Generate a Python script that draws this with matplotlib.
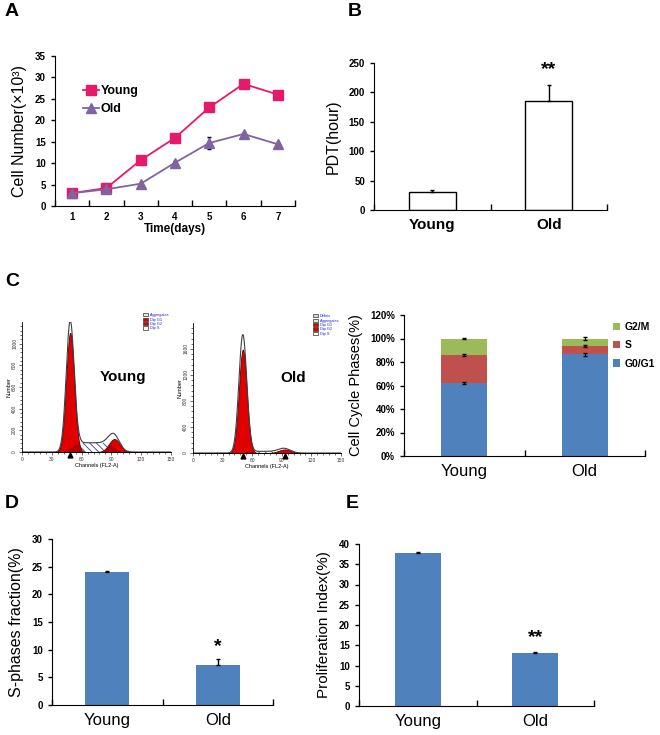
import math
import numpy as np
import matplotlib
matplotlib.use('Agg')
import matplotlib.pyplot as plt
from matplotlib.patches import Patch
from matplotlib.lines import Line2D

plt.rcParams['font.family'] = ['Liberation Sans', 'DejaVu Sans']
plt.rcParams['hatch.linewidth'] = 0.6

# ---- data ----
days = [1, 2, 3, 4, 5, 6, 7]
young_cells = [3.0, 4.2, 10.7, 15.9, 23.0, 28.5, 26.0]
old_cells = [3.0, 3.9, 5.2, 10.1, 14.7, 16.8, 14.4]
old_cells_err = [0.2, 0.2, 0.2, 0.3, 1.3, 0.3, 0.3]

groups = ['Young', 'Old']
pdt = [31, 186]
pdt_err = [3, 26]

g0g1 = [62.0, 86.5]
s_phase = [24.0, 7.0]
g2m = [14.0, 6.5]
g0g1_err = [1.0, 1.0]
s_err = [0.5, 1.0]
g2m_err = [0.3, 1.0]

s_fraction = [24.0, 7.2]
s_fraction_err = [0.3, 1.2]
prolif = [37.8, 13.2]
prolif_err = [0.3, 0.2]

# flow histogram fit components: (channel, height, sigma)
young_g1 = (48.5, 1100, 4.0)
young_g1_env = 1170
young_g2 = (93.0, 120, 5.5)
young_g2_env = 125
young_s_level = 85
old_g1 = (50.5, 1590, 4.0)
old_g1_env = 1810
old_g2 = (93.0, 55, 6.0)
old_g2_env = 60
old_s_level = 25

pink = '#E6196B'
purple = '#8064A2'
blue = '#4F81BD'
red = '#C0504D'
green = '#9BBB59'

fig = plt.figure(figsize=(6.6, 7.35), dpi=100)
W, H = 660.0, 735.0


def axes_px(x0, y0, x1, y1):
    return fig.add_axes([x0 / W, 1 - y1 / H, (x1 - x0) / W, (y1 - y0) / H])


def excel_style(ax):
    for s in ['top', 'right']:
        ax.spines[s].set_visible(False)
    ax.tick_params(axis='y', direction='out', length=3, width=1, labelsize=7)
    for t in ax.get_yticklabels():
        t.set_fontweight('bold')


def cat_axis(ax, n, labelsize=12, weight='normal'):
    ax.set_xlim(0.5, n + 0.5)
    ax.set_xticks(range(1, n + 1))
    ax.set_xticklabels(groups if n == 2 else [str(d) for d in days],
                       fontsize=labelsize, fontweight=weight)
    ax.set_xticks(np.arange(0.5, n + 1, 1.0), minor=True)
    ax.tick_params(axis='x', which='major', length=0, pad=6)
    ax.tick_params(axis='x', which='minor', direction='in', length=4, width=1)


# ---- A ----
ax = axes_px(55, 56, 295, 206)
ax.plot(days, young_cells, color=pink, marker='s', ms=7, lw=1.3)
ax.errorbar(days, old_cells, yerr=old_cells_err, color=purple, marker='^', ms=7,
            lw=1.3, ecolor='black', elinewidth=1, capsize=1.5)
ax.set_ylim(0, 35)
ax.set_yticks(range(0, 36, 5))
excel_style(ax)
cat_axis(ax, 7, labelsize=7, weight='bold')
ax.tick_params(axis='x', which='major', pad=4)
ax.set_xlabel('Time(days)', fontsize=8.5, fontweight='bold', labelpad=1)
ax.set_ylabel('Cell Number(\u00d710\u00b3)', fontsize=11.5, labelpad=6)
leg_handles = [Line2D([], [], color=pink, marker='s', ms=7, lw=1.3),
               Line2D([], [], color=purple, marker='^', ms=7, lw=1.3)]
ax.legend(leg_handles, groups, loc='upper left', bbox_to_anchor=(0.07, 0.88), frameon=False,
          handlelength=1.3, handletextpad=0.1, labelspacing=0.45,
          prop={'size': 9, 'weight': 'bold'})
fig.text(12 / W, 1 - 12 / H, 'A', fontsize=14, fontweight='bold', va='center', ha='center')

# ---- B ----
ax = axes_px(374, 63, 607, 210)
x = np.arange(1, 3)
ax.bar(x, pdt, width=0.4, color='white', edgecolor='black', lw=1)
ax.errorbar(x, pdt, yerr=[[0, 0], pdt_err], fmt='none', ecolor='black',
            elinewidth=1, capsize=1.5)
ax.set_ylim(0, 250)
ax.set_yticks(range(0, 251, 50))
excel_style(ax)
cat_axis(ax, 2, labelsize=11, weight='bold')
ax.set_ylabel('PDT(hour)', fontsize=11.5, labelpad=6)
ax.text(2, 238, '**', ha='center', va='center', fontsize=14, fontweight='bold')
fig.text(355 / W, 1 - 12 / H, 'B', fontsize=14, fontweight='bold', va='center', ha='center')

# ---- C: flow histograms ----
fig.text(12 / W, 1 - 282 / H, 'C', fontsize=14, fontweight='bold', va='center', ha='center')


def gauss(ch, p, h=None):
    c, hh, s = p
    if h is None:
        h = hh
    return h * np.exp(-0.5 * ((ch - c) / s) ** 2)


def s_plateau(ch, c1, c2, level, s):
    erf = np.vectorize(math.erf)
    return level * 0.5 * (erf((ch - c1) / (math.sqrt(2) * s)) - erf((ch - c2) / (math.sqrt(2) * s)))


def histogram(ax, g1, g1_env, g2, g2_env, s_level, ymax, yticks, leg_items, name, marks, fs):
    ch = np.linspace(0, 150, 1200)
    s = s_plateau(ch, g1[0], g2[0], s_level, 5.0)
    r1 = gauss(ch, g1)
    r2 = gauss(ch, g2)
    env = gauss(ch, g1, g1_env) + s + gauss(ch, g2, g2_env)
    ax.fill_between(ch, 0, s, facecolor='white', edgecolor='#3040A0', hatch='\\\\\\\\\\', lw=0)
    ax.fill_between(ch, 0, r1, color='#E00000', lw=0.6, edgecolor='#600000')
    ax.fill_between(ch, 0, r2, color='#E00000', lw=0.6, edgecolor='#600000')
    ax.fill_between(ch, 0, np.minimum(s, np.maximum(r1, r2)), color='#B00000', lw=0)
    ax.plot(ch, env, color='#404040', lw=0.8)
    ax.set_xlim(0, 150)
    ax.set_ylim(0, ymax)
    for sp in ['top', 'right']:
        ax.spines[sp].set_visible(False)
    for sp in ['left', 'bottom']:
        ax.spines[sp].set_linewidth(0.6)
    ax.set_xticks(range(0, 151, 30))
    ax.set_xticks(range(0, 151, 6), minor=True)
    ax.set_yticks(yticks)
    ax.set_yticks(np.arange(0, ymax, yticks[1] / 5), minor=True)
    ax.tick_params(which='both', labelsize=3.5, length=2, width=0.5, pad=1.5, colors='#333333')
    ax.tick_params(which='minor', length=1.2)
    for t in ax.get_yticklabels():
        t.set_rotation(90)
        t.set_va('center')
    ax.set_xlabel('Channels (FL2-A)', fontsize=4, labelpad=0.5)
    ax.set_ylabel('Number', fontsize=4, labelpad=0.5)
    for m in marks:
        ax.plot(m, -ymax * 0.025, marker='^', color='black', ms=3.5, clip_on=False)
    handles = [Patch(facecolor=fc, edgecolor='#333333', hatch=h, lw=0.5) for fc, h in leg_items[1]]
    lg = ax.legend(handles, leg_items[0], loc='upper left', bbox_to_anchor=(0.8, 1.08),
                   frameon=False, fontsize=2.8, handlelength=1.4, handleheight=0.9,
                   labelspacing=0.1, handletextpad=0.4, borderaxespad=0)
    for t in lg.get_texts():
        t.set_color('#2020E0')
    ax.text(0.68, 0.58, name, transform=ax.transAxes, ha='center', va='center',
            fontsize=fs, fontweight='bold')


ax = axes_px(22, 322, 171, 452)
histogram(ax, young_g1, young_g1_env, young_g2, young_g2_env, young_s_level, 1200,
          [0, 200, 400, 600, 800, 1000],
          (['Aggregates', 'Dip G1', 'Dip G2', 'Dip S'],
           [('#D8F0D0', None), ('#E00000', None), ('#E00000', None), ('white', '\\\\\\')]),
          'Young', [young_g1[0]], 11)

ax = axes_px(193, 323, 341, 453)
histogram(ax, old_g1, old_g1_env, old_g2, old_g2_env, old_s_level, 2000,
          [0, 400, 800, 1200, 1600],
          (['Debris', 'Aggregates', 'Dip G1', 'Dip G2', 'Dip S'],
           [('#D0D8F0', None), ('#D8F0D0', None), ('#E00000', None), ('#E00000', None),
            ('white', '\\\\\\')]),
          'Old', [old_g1[0], old_g2[0]], 11)

# ---- C: stacked bars ----
ax = axes_px(404, 315, 645, 456)
g0 = np.array(g0g1) / 100
sp = np.array(s_phase) / 100
gm = np.array(g2m) / 100
ax.bar(x, g0, width=0.38, color=blue, label='G0/G1')
ax.bar(x, sp, width=0.38, bottom=g0, color=red, label='S')
ax.bar(x, gm, width=0.38, bottom=g0 + sp, color=green, label='G2/M')
ax.errorbar(x, g0, yerr=np.array(g0g1_err) / 100, fmt='none', ecolor='black', elinewidth=0.8, capsize=1.2)
ax.errorbar(x, g0 + sp, yerr=np.array(s_err) / 100, fmt='none', ecolor='black', elinewidth=0.8, capsize=1.2)
ax.errorbar(x, g0 + sp + gm, yerr=np.array(g2m_err) / 100, fmt='none', ecolor='black', elinewidth=0.8, capsize=1.2)
ax.set_ylim(0, 1.2)
ax.set_yticks(np.arange(0, 1.21, 0.2))
ax.set_yticklabels(['%d%%' % v for v in range(0, 121, 20)])
excel_style(ax)
cat_axis(ax, 2, labelsize=12)
ax.set_ylabel('Cell Cycle Phases(%)', fontsize=10.5, labelpad=5)
h, l = ax.get_legend_handles_labels()
ax.legend(h[::-1], l[::-1], loc='upper left', bbox_to_anchor=(0.85, 0.98), frameon=False,
          handlelength=0.7, handleheight=0.7, handletextpad=0.4, labelspacing=0.8,
          borderaxespad=0, prop={'size': 7.5, 'weight': 'bold'})

# ---- D ----
ax = axes_px(52, 539, 273, 705)
ax.bar(x, s_fraction, width=0.4, color=blue)
ax.errorbar(x, s_fraction, yerr=[[0, 0], s_fraction_err], fmt='none', ecolor='black',
            elinewidth=1, capsize=1.5)
ax.set_ylim(0, 30)
ax.set_yticks(range(0, 31, 5))
excel_style(ax)
cat_axis(ax, 2, labelsize=12)
ax.set_ylabel('S-phases fraction(%)', fontsize=11.5, labelpad=6)
ax.text(2, 10.6, '*', ha='center', va='center', fontsize=14, fontweight='bold')
fig.text(12 / W, 1 - 503 / H, 'D', fontsize=14, fontweight='bold', va='center', ha='center')

# ---- E ----
ax = axes_px(359, 544, 594, 706)
ax.bar(x, prolif, width=0.39, color=blue)
ax.errorbar(x, prolif, yerr=[[0, 0], prolif_err], fmt='none', ecolor='black',
            elinewidth=1, capsize=1.5)
ax.set_ylim(0, 40)
ax.set_yticks(range(0, 41, 5))
excel_style(ax)
cat_axis(ax, 2, labelsize=12)
ax.set_ylabel('Proliferation Index(%)', fontsize=11, labelpad=6)
ax.text(2, 16.8, '**', ha='center', va='center', fontsize=14, fontweight='bold')
fig.text(352 / W, 1 - 503 / H, 'E', fontsize=14, fontweight='bold', va='center', ha='center')

fig.savefig('out.png', dpi=100)
